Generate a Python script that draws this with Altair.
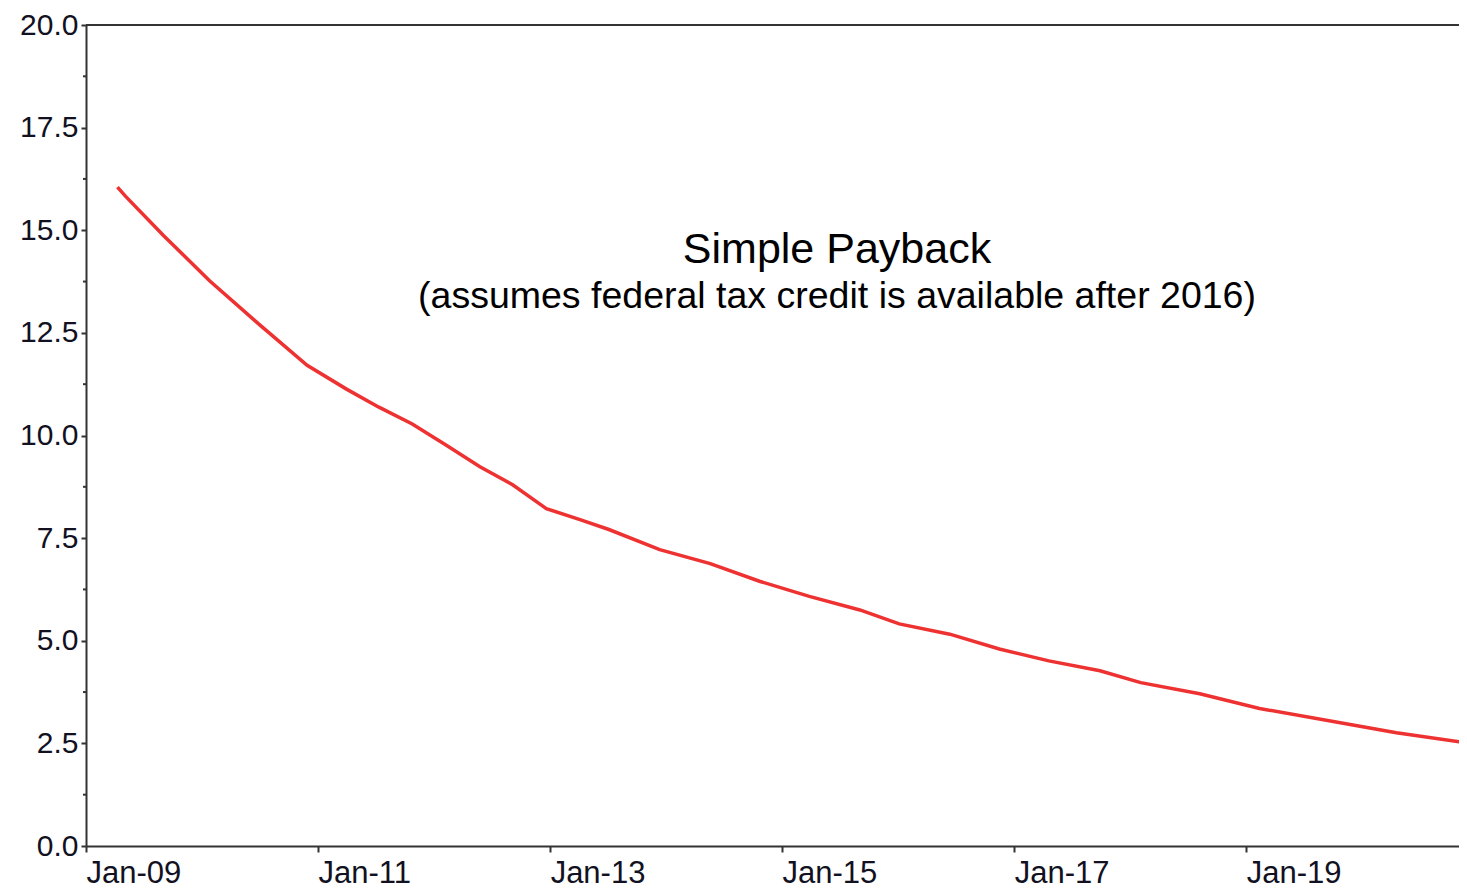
import altair as alt
import pandas as pd

# Data
dates = [
    "2009-04-10", "2009-05-05", "2009-09-01", "2010-01-25", "2010-07-01",
    "2010-11-28", "2011-04-01", "2011-07-12", "2011-10-25", "2012-02-08",
    "2012-05-25", "2012-09-05", "2012-12-20", "2013-04-05", "2013-07-05",
    "2013-12-12", "2014-05-20", "2014-10-22", "2015-03-28", "2015-09-03",
    "2016-01-05", "2016-06-12", "2016-11-15", "2017-04-20", "2017-09-28",
    "2018-02-03", "2018-08-08", "2019-02-12", "2019-10-20", "2020-04-18",
    "2020-11-18",
]
payback = [
    16.05, 15.83, 14.88, 13.77, 12.70,
    11.71, 11.13, 10.69, 10.28, 9.77,
    9.24, 8.80, 8.22, 7.95, 7.71,
    7.22, 6.88, 6.45, 6.08, 5.75,
    5.41, 5.16, 4.80, 4.51, 4.27,
    3.98, 3.71, 3.35, 3.01, 2.76,
    2.52,
]
y_major = [0, 2.5, 5, 7.5, 10, 12.5, 15, 17.5, 20]
y_minor = [1.25, 3.75, 6.25, 8.75, 11.25, 13.75, 16.25, 18.75]
x_tick_years = [2009, 2011, 2013, 2015, 2017, 2019]
title_lines = ["Simple Payback", "(assumes federal tax credit is available after 2016)"]

W, H = 1373, 821
FONT = "Liberation Sans"
AX = "#333333"

df = pd.DataFrame({"date": dates, "value": payback})

xscale = alt.Scale(type="utc", domain=[
    alt.DateTime(year=2009, month=1, date=1, utc=True),
    alt.DateTime(year=2020, month=11, date=1, utc=True),
])
yscale = alt.Scale(domain=[0, 20], nice=False, zero=False)
yaxis = alt.Axis(values=y_major, format=".1f", tickSize=5, labelPadding=3,
                 grid=False, labelFontSize=30)

line = alt.Chart(df).mark_line(color="#EE3131", strokeWidth=3.5, clip=True).encode(
    x=alt.X("date:T", scale=xscale, title=None,
            axis=alt.Axis(values=[alt.DateTime(year=y, month=1, date=1, utc=True) for y in x_tick_years],
                          labelExpr="utcFormat(datum.value, '%b-%y')",
                          labelAlign="left", labelBaseline="top",
                          labelFlush=False, labelOverlap=False, tickSize=6, labelPadding=6,
                          grid=False, labelFontSize=31)),
    y=alt.Y("value:Q", scale=yscale, title=None, axis=yaxis),
)

minor = alt.Chart(pd.DataFrame({"value": y_minor})).mark_rule(color=AX, strokeWidth=2).encode(
    y=alt.Y("value:Q", scale=yscale, title=None, axis=yaxis),
    x=alt.value(-3), x2=alt.value(0),
)

top = alt.Chart(pd.DataFrame({"value": [20]})).mark_rule(color=AX, strokeWidth=2).encode(
    y=alt.Y("value:Q", scale=yscale, title=None, axis=yaxis),
    x=alt.value(0), x2=alt.value(W),
)

tdf = pd.DataFrame({"t": title_lines})
t1 = alt.Chart(tdf.iloc[[0]]).mark_text(font=FONT, fontSize=43, color="#000", align="center",
                                        baseline="alphabetic").encode(
    text="t:N", x=alt.value(751), y=alt.value(238))
t2 = alt.Chart(tdf.iloc[[1]]).mark_text(font=FONT, fontSize=37.5, color="#000", align="center",
                                        baseline="alphabetic").encode(
    text="t:N", x=alt.value(751), y=alt.value(283))

chart = alt.layer(line, minor, top, t1, t2).properties(
    width=W, height=H,
    autosize=alt.AutoSizeParams(type="none"),
    padding={"left": 78, "top": 17, "right": 0, "bottom": 44},
).configure_view(stroke=None).configure_axis(
    domainColor=AX, domainWidth=2, tickColor=AX, tickWidth=2,
    labelFont=FONT, labelColor="#111122",
)

chart.save("out.html", embed_options={"renderer": "svg", "actions": False})
